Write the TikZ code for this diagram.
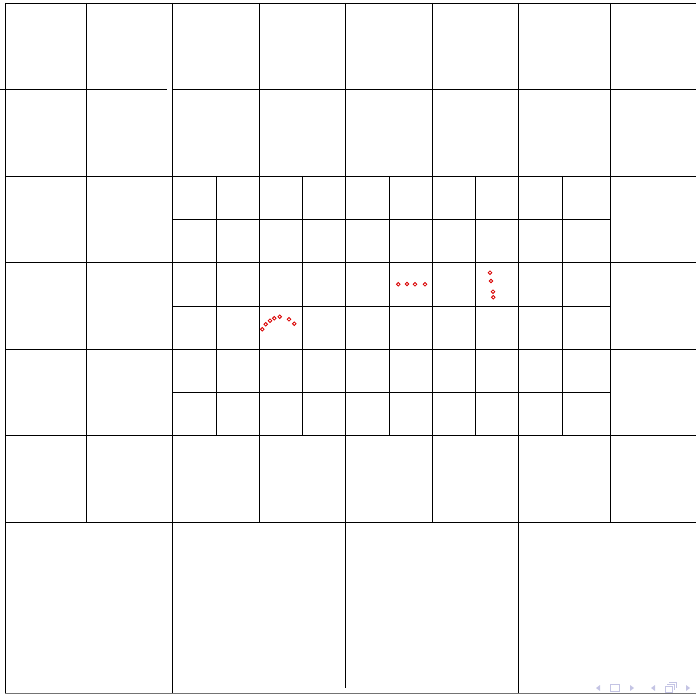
\documentclass[tikz,border=0pt]{standalone}
\usepackage{tikz}
\usetikzlibrary{positioning,calc}
\definecolor{nav blue}{RGB}{196,196,228}
\tikzstyle{meshline} = [black,line width=0.6pt]
\tikzstyle{ring} = [draw=red!85!black,fill=white,circle,inner sep=0pt,minimum size=3.6pt,line width=0.8pt]
\tikzstyle{navsym} = [fill=nav blue,draw=none]

\begin{document}
\begin{tikzpicture}[x=1pt,y=-1pt]
		\useasboundingbox (0,0) rectangle (696,695);
		% coarse cells
		\draw[meshline] (5,3) to (696,3);
		\draw[meshline] (0,89.5) to (167,89.5) (173,89.5) to (696,89.5);
		\foreach \y in {176,262.5,349,435.5,522} \draw[meshline] (5,\y) to (696,\y);
		\draw[meshline,black!55] (5,693) to (696,693);
		\draw[meshline] (5,3) to (5,693);
		\draw[meshline] (172.5,3) to (172.5,693);
		\draw[meshline] (518.5,3) to (518.5,693);
		\draw[meshline] (345.5,3) to (345.5,688);
		\foreach \x in {86,259,432,610.5} \draw[meshline] (\x,3) to (\x,522);
		% refined cells
		\foreach \y in {219.5,306,392} \draw[meshline] (172.5,\y) to (610.5,\y);
		\foreach \x in {216,302,389,475,562} \draw[meshline] (\x,176) to (\x,435.5);
		
		\node[ring] (a1) at (262.3,329.3) {};
		\node[ring] (a2) at (265.7,324.3) {};
		\node[ring] (a3) at (270,320.7) {};
		\node[ring] (a4) at (274.3,318.3) {};
		\node[ring] (a5) at (279.7,316.7) {};
		\node[ring] (a6) at (289,319.3) {};
		\node[ring] (a7) at (294.3,323.7) {};
		\node[ring] (b1) at (398.3,284.3) {};
		\node[ring] (b2) at (407,284) {};
		\node[ring] (b3) at (415,284.3) {};
		\node[ring] (b4) at (425,284.3) {};
		\node[ring] (c1) at (490,272.7) {};
		\node[ring] (c2) at (491,281) {};
		\node[ring] (c3) at (493,291.7) {};
		\node[ring] (c4) at (493.3,297.3) {};
		
		% navigation symbols
		\fill[navsym] (596,688) -- (600,685) -- (600,691) -- cycle;
		\draw[nav blue,line width=0.8pt] (610,684.5) rectangle (619,691.5);
		\fill[navsym] (634,688) -- (630,685) -- (630,691) -- cycle;
		\fill[navsym] (651,688) -- (655,685) -- (655,691) -- cycle;
		\draw[nav blue,line width=0.8pt] (665,686) rectangle (672,692);
		\draw[nav blue,line width=0.8pt] (667,684) -- (674,684) -- (674,690);
		\draw[nav blue,line width=0.8pt] (669,682) -- (676,682) -- (676,688);
		\fill[navsym] (690,688) -- (686,685) -- (686,691) -- cycle;
	\end{tikzpicture}
\end{document}
